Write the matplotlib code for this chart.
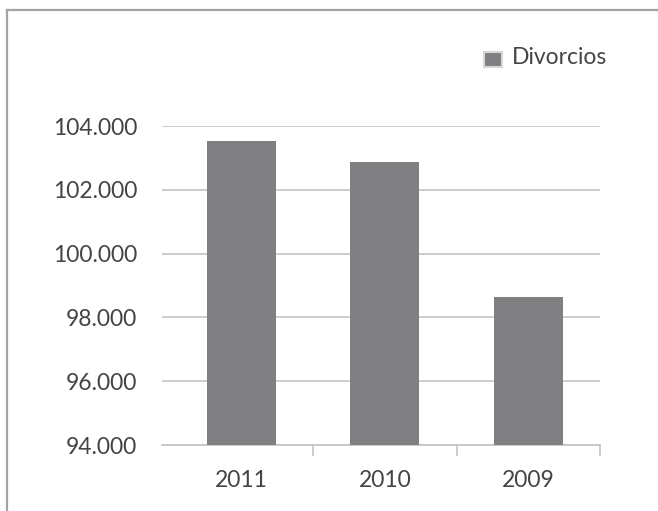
import matplotlib
matplotlib.use("Agg")
import matplotlib.pyplot as plt
from matplotlib.lines import Line2D
from matplotlib.patches import Rectangle
from matplotlib.ticker import FuncFormatter, FixedLocator

categories = ["2011", "2010", "2009"]
divorcios = [103530, 102870, 98630]
series_name = "Divorcios"
y_ticks = [94000, 96000, 98000, 100000, 102000, 104000]

plt.rcParams['font.family'] = ['Lato', 'DejaVu Sans']

W, H = 658, 511
fig = plt.figure(figsize=(W / 100, H / 100), dpi=100)
ax = fig.add_axes([162 / W, (H - 445) / H, (600 - 162) / W, (445 - 126) / H])

bar_color = "#808083"
text_color = "#444444"
grid_color = "#c4c4c4"
fs = 16.5

x = list(range(len(categories)))
ax.bar(x, divorcios, width=0.48, color=bar_color, zorder=3)

ax.set_ylim(94000, 104000)
ax.set_xlim(-0.554, 2.5)
ax.set_yticks(y_ticks)
ax.yaxis.set_major_formatter(FuncFormatter(lambda v, p: f"{int(v):,}".replace(",", ".")))
ax.grid(axis="y", color=grid_color, linewidth=1.2, zorder=0)

ax.set_xticks(x)
ax.set_xticklabels(categories)
ax.xaxis.set_minor_locator(FixedLocator([0.5, 1.5, 2.5]))
ax.tick_params(axis="x", which="major", length=0, pad=18, labelsize=fs, labelcolor=text_color)
ax.tick_params(axis="x", which="minor", length=8, width=1.2, color=grid_color)
ax.tick_params(axis="y", length=0, pad=18, labelsize=fs, labelcolor=text_color)

for s in ["top", "right", "left"]:
    ax.spines[s].set_visible(False)
ax.spines["bottom"].set_color(grid_color)
ax.spines["bottom"].set_linewidth(1.2)

# legend
fig.add_artist(Rectangle((484 / W, 1 - 67 / H), 18 / W, 15 / H, transform=fig.transFigure,
                         facecolor=bar_color, edgecolor="#d8d8d8", linewidth=1.5))
fig.text(512 / W, 1 - 58 / H, series_name, ha="left", va="center", fontsize=fs,
         color=text_color)

# border
border_color = "#a3a3a3"
fig.add_artist(Line2D([6.5 / W, 6.5 / W], [0, 1 - 10 / H], transform=fig.transFigure,
                      color=border_color, linewidth=1.6))
fig.add_artist(Line2D([6.5 / W, 1], [1 - 10 / H, 1 - 10 / H], transform=fig.transFigure,
                      color=border_color, linewidth=1.6))

fig.savefig("out.png", dpi=100)
